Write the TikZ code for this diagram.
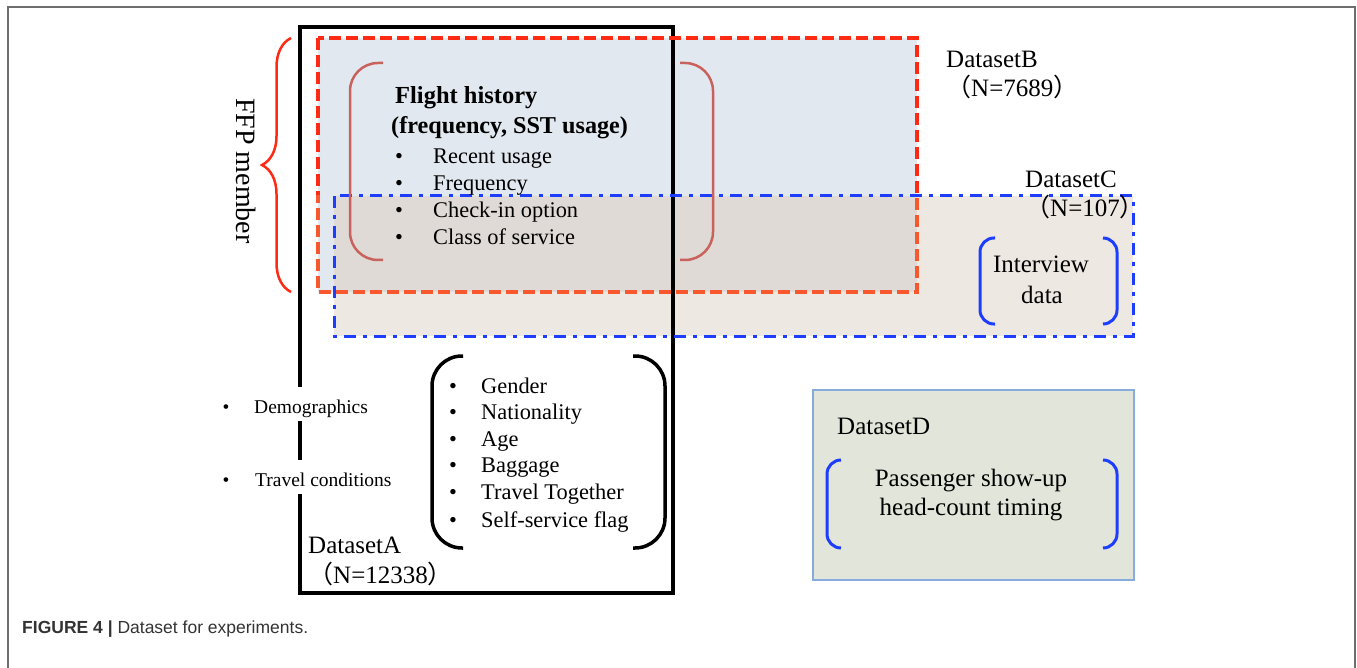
\documentclass[tikz,border=0pt]{standalone}
\usepackage{fontspec}
\setmainfont{Liberation Serif}
\setsansfont{Liberation Sans}
\newfontfamily\cjk{Noto Sans CJK SC}
\usepackage{xcolor}
\usepackage{tikz}
\usetikzlibrary{decorations.pathreplacing}
\definecolor{fillB}{HTML}{E2E8EF}
\definecolor{fillC}{HTML}{EEE8E2}
\definecolor{fillBC}{HTML}{DFDAD5}
\definecolor{fillD}{HTML}{E2E5D9}
\definecolor{edgeD}{HTML}{86ABDC}
\definecolor{redB}{HTML}{FF2A14}
\definecolor{orangeB}{HTML}{F8582E}
\definecolor{blueC}{HTML}{1E3EFF}
\definecolor{parenF}{HTML}{C9625C}
\definecolor{capgray}{HTML}{333333}
\definecolor{framegray}{HTML}{6E6E6E}

\begin{document}
\begin{tikzpicture}[x=1pt,y=-1pt,
    item/.style={anchor=base west,inner sep=0pt,font=\fontsize{22.4}{27}\selectfont},
    dot/.style={anchor=base,inner sep=0pt,font=\fontsize{22.4}{27}\selectfont},
    lab/.style={anchor=base west,inner sep=0pt,font=\fontsize{25}{29}\selectfont},
    midlab/.style={anchor=base,inner sep=0pt,font=\fontsize{25}{29}\selectfont},
    side/.style={anchor=base west,inner xsep=2pt,inner ysep=0pt,text height=26pt,text depth=8pt,fill=white,font=\fontsize{19.5}{23}\selectfont},
    sidedot/.style={anchor=base,inner sep=0pt,font=\fontsize{19.5}{23}\selectfont}]
        \useasboundingbox (0,0) rectangle (1357,668);

        % 外框
        \draw[framegray,line width=1.5pt] (8,668) -- (8,7) -- (1355,7) -- (1355,668);

        % 填充 B、C 及其重叠部分
        \fill[fillB] (318,38) rectangle (917,292);
        \fill[fillC] (334,196) rectangle (1133,336);
        \fill[fillBC] (334,196) rectangle (917,292);

        % 数据集 D
        \draw[draw=edgeD,fill=fillD,line width=1.2pt] (813,390) rectangle (1134,580);

        % 数据集 A(黑框)
        \draw[line width=3.5pt] (300,27) rectangle (673,593);

        % 数据集 B(红色虚线框)
        \draw[redB,line width=4pt,dash pattern=on 12pt off 5pt] (318,38) rectangle (917,292);
        \begin{scope}
            \clip (300,196) rectangle (940,300);
            \draw[orangeB,line width=4pt,dash pattern=on 12pt off 5pt] (318,38) rectangle (917,292);
        \end{scope}

        % 数据集 C(蓝色点划线框)
        \draw[blueC,line width=3pt,dash pattern=on 12pt off 7pt on 4pt off 7pt] (334,196) rectangle (1133,336);

        % FFP member 大括号
        \draw[redB,line width=2.5pt,decorate,decoration={brace,amplitude=29pt}] (291,292) -- (291,38);
        \node[rotate=-90,inner sep=0pt,font=\fontsize{28}{32}\selectfont] (ffp) at (246,171) {FFP member};

        % 括号
        \draw[parenF,line width=2.5pt,rounded corners=28pt] (383,63) -- (350,63) -- (350,260) -- (383,260);
        \draw[parenF,line width=2.5pt,rounded corners=28pt] (680,63) -- (713,63) -- (713,260) -- (680,260);
        \draw[line width=3.5pt,rounded corners=30pt] (463,356) -- (432,356) -- (432,548) -- (463,548);
        \draw[line width=3.5pt,rounded corners=30pt] (633,356) -- (665,356) -- (665,548) -- (633,548);
        \draw[blueC,line width=3pt,rounded corners=14pt] (995,238) -- (980,238) -- (980,324) -- (995,324);
        \draw[blueC,line width=3pt,rounded corners=14pt] (1103,238) -- (1117,238) -- (1117,324) -- (1103,324);
        \draw[blueC,line width=3pt,rounded corners=14pt] (841,460) -- (827,460) -- (827,548) -- (841,548);
        \draw[blueC,line width=3pt,rounded corners=14pt] (1103,460) -- (1117,460) -- (1117,548) -- (1103,548);

        % 飞行记录
        \node[anchor=base west,inner sep=0pt,font=\bfseries\fontsize{24.5}{29}\selectfont] (fh) at (395,104) {Flight history};
        \node[anchor=base west,inner sep=0pt,font=\bfseries\fontsize{24.2}{29}\selectfont] (fhsub) at (391,134) {(frequency, SST usage)};
        \node[dot] (fb1) at (399,164) {\textbullet};
        \node[item] (recent) at (433,164) {Recent usage};
        \node[dot] (fb2) at (399,191) {\textbullet};
        \node[item] (freq) at (433,191) {Frequency};
        \node[dot] (fb3) at (399,218) {\textbullet};
        \node[item] (checkin) at (433,218) {Check-in option};
        \node[dot] (fb4) at (399,245) {\textbullet};
        \node[item] (class) at (433,245) {Class of service};

        % 数据集 A 的属性
        \node[dot] (ab1) at (453,393) {\textbullet};
        \node[item] (gender) at (481,393) {Gender};
        \node[dot] (ab2) at (453,419) {\textbullet};
        \node[item] (nation) at (481,419) {Nationality};
        \node[dot] (ab3) at (453,446) {\textbullet};
        \node[item] (age) at (481,446) {Age};
        \node[dot] (ab4) at (453,472) {\textbullet};
        \node[item] (bag) at (481,472) {Baggage};
        \node[dot] (ab5) at (453,499) {\textbullet};
        \node[item] (together) at (481,499) {Travel Together};
        \node[dot] (ab6) at (453,527) {\textbullet};
        \node[item] (selfflag) at (481,527) {Self-service flag};

        % 左侧说明
        \node[sidedot] (sb1) at (226,413) {\textbullet};
        \node[side] (demo) at (252,413) {Demographics};
        \node[sidedot] (sb2) at (226,486) {\textbullet};
        \node[side] (travel) at (253,486) {Travel conditions};

        % 数据集标签
        \node[lab] (labA) at (308,553) {DatasetA};
        \node[lab] (numA) at (308,583) {{\cjk （}N=12338{\cjk ）}};
        \node[lab] (labB) at (946,68) {DatasetB};
        \node[lab] (numB) at (946,97) {{\cjk （}N=7689{\cjk ）}};
        \node[lab] (labC) at (1025,188) {DatasetC};
        \node[lab] (numC) at (1025,217) {{\cjk （}N=107{\cjk ）}};
        \node[lab] (labD) at (837,434) {DatasetD};

        % 访谈与计时数据
        \node[midlab] (interview) at (1041,273) {Interview};
        \node[midlab] (idata) at (1042,303) {data};
        \node[midlab] (showup) at (971,486) {Passenger show-up};
        \node[midlab] (headcount) at (971,515) {head-count timing};

        % 图注
        \node[anchor=base west,inner sep=0pt,text=capgray,font=\sffamily\fontsize{17.5}{21}\selectfont] (cap) at (22,633) {\textbf{FIGURE 4 |} Dataset for experiments.};
\end{tikzpicture}
\end{document}
